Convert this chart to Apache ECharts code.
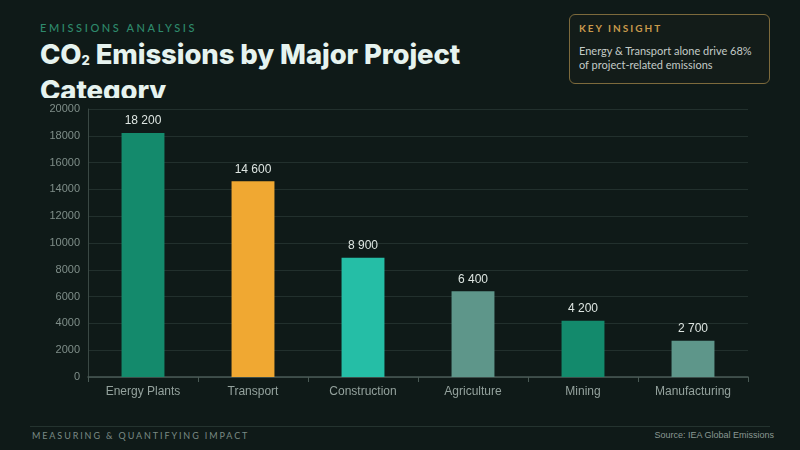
<!DOCTYPE html>
<html>
<head>
<meta charset="utf-8">
<script src="https://cdn.jsdelivr.net/npm/echarts@6/dist/echarts.min.js"></script>
<style>
  html, body { margin: 0; padding: 0; }
  body { width: 800px; height: 450px; background: #0f1a18; position: relative; overflow: hidden; font-family: "Liberation Sans", sans-serif; }
  #kicker { position: absolute; left: 40px; top: 21px; font: 500 11px "Lato", sans-serif; letter-spacing: 2.6px; color: #2e8a6c; }
  #title { position: absolute; left: 40px; top: 39px; width: 470px; height: 59px; overflow: hidden;
           font: 800 27.5px/30px "Inter", sans-serif; color: #e6f3ef; letter-spacing: -0.1px; }
  #title sub { font-size: 13px; vertical-align: -1px; }
  #insight { position: absolute; left: 569px; top: 14px; width: 201px; height: 70px; box-sizing: border-box;
             border: 1px solid #7d6a3c; border-radius: 6px; background: #131c19; padding: 7px 9px; }
  #insight .k { font: 700 10px "Lato", sans-serif; letter-spacing: 2px; color: #c99a4c; }
  #insight .t { margin-top: 10px; font: 400 11px/14px "Lato", sans-serif; color: #c3cbc7; }
  #chart { position: absolute; left: 0; top: 98px; width: 800px; height: 320px; }
  #rule { position: absolute; left: 30px; right: 30px; top: 426px; height: 1px; background: #24332f; }
  #foot-l { position: absolute; left: 32px; top: 430px; font: 400 9px "Lato", sans-serif; letter-spacing: 1.9px; color: #7a8a85; }
  #foot-r { position: absolute; right: 26px; top: 430px; font: 400 9px "Liberation Sans Narrow", "Liberation Sans", sans-serif; color: #8a9893; }
</style>
</head>
<body>
<div id="kicker">EMISSIONS ANALYSIS</div>
<div id="title">CO<sub>2</sub> Emissions by Major Project Category</div>
<div id="insight">
  <div class="k">KEY INSIGHT</div>
  <div class="t">Energy &amp; Transport alone drive 68% of project-related emissions</div>
</div>
<div id="chart"></div>
<div id="rule"></div>
<div id="foot-l">MEASURING &amp; QUANTIFYING IMPACT</div>
<div id="foot-r">Source: IEA Global Emissions</div>
<script>
// categories and emissions (tonnes CO2)
const categories = ['Energy Plants', 'Transport', 'Construction', 'Agriculture', 'Mining', 'Manufacturing'];
const emissions = [18200, 14600, 8900, 6400, 4200, 2700];
const barColors = ['#148a6c', '#f0a832', '#25bea6', '#5e968a', '#138a6c', '#5e968a'];

const chart = echarts.init(document.getElementById('chart'));

const fmt = (v) => String(v).replace(/\B(?=(\d{3})+(?!\d))/g, ' ');

chart.setOption({
  animation: false,
  grid: { left: 88, right: 52, top: 11, bottom: 41 },
  xAxis: {
    type: 'category',
    data: categories,
    axisLine: { lineStyle: { color: '#4a5a55', width: 1.5 } },
    axisTick: { show: true, lineStyle: { color: '#4a5a55' } },
    axisLabel: { color: '#94a29d', fontSize: 12, margin: 9, fontFamily: 'Liberation Sans' }
  },
  yAxis: {
    type: 'value',
    min: 0,
    max: 20000,
    interval: 2000,
    axisLine: { show: true, lineStyle: { color: '#3a4844' } },
    axisTick: { show: false },
    splitLine: { lineStyle: { color: '#22302d' } },
    axisLabel: { color: '#7f8e89', fontSize: 11, fontFamily: 'Liberation Sans', formatter: (v) => String(v) }
  },
  series: [{
    type: 'bar',
    barWidth: '39%',
    data: emissions.map((v, i) => ({ value: v, itemStyle: { color: barColors[i] } })),
    label: {
      show: true,
      position: 'top',
      distance: 6,
      color: '#dde5e1',
      fontSize: 12,
      fontFamily: 'Liberation Sans',
      formatter: (p) => fmt(p.value)
    }
  }]
});
</script>
</body>
</html>
